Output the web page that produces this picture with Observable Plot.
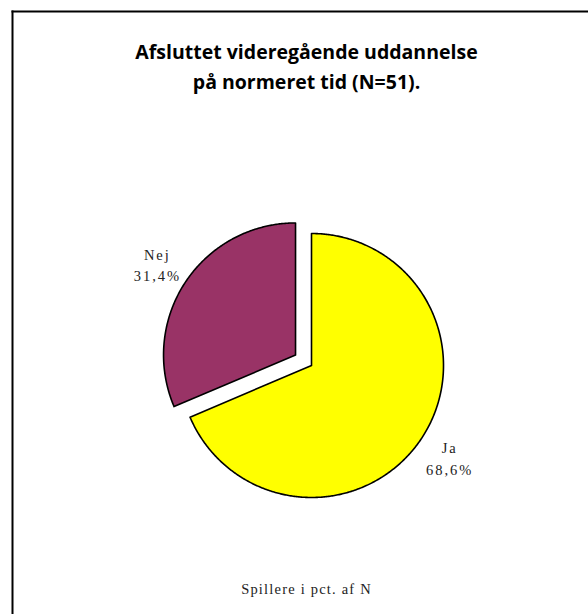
<!DOCTYPE html>
<html>
<head>
<meta charset="utf-8">
<script src="https://cdn.jsdelivr.net/npm/d3@7"></script>
<script src="https://cdn.jsdelivr.net/npm/@observablehq/plot@0.6"></script>
<style>
  html, body { margin: 0; padding: 0; background: #fff; }
  #chart { width: 588px; height: 614px; }
</style>
</head>
<body>
<div id="chart"></div>
<script>
// ---- data ----
const categories = ["Ja", "Nej"];
const values = [68.6, 31.4];
const valueLabels = ["68,6%", "31,4%"];
const sliceColors = ["#FFFF00", "#993366"];
const explodedSlices = ["Nej"];
const titleLines = ["Afsluttet videregående uddannelse", "på normeret tid (N=51)."];
const caption = "Spillere i pct. af N";

// ---- layout ----
const W = 588, H = 614;
const mL = 12, mT = 11;
const cx = 311, cy = 365, R = 132;   // pie centre & radius in px
const explode = 0.145;               // in radius units
const labelR = 1.255;

const total = d3.sum(values);
let acc = 0;
const slices = categories.map((c, i) => {
  const a0 = acc / total * 2 * Math.PI;
  acc += values[i];
  const a1 = acc / total * 2 * Math.PI;
  const mid = (a0 + a1) / 2;
  const e = explodedSlices.includes(c) ? explode : 0;
  const ox = e * Math.sin(mid), oy = e * Math.cos(mid);
  const pts = [{x: ox, y: oy}];
  const n = Math.max(2, Math.ceil((a1 - a0) / (Math.PI / 360)));
  for (let k = 0; k <= n; k++) {
    const a = a0 + (a1 - a0) * k / n;
    pts.push({x: ox + Math.sin(a), y: oy + Math.cos(a)});
  }
  pts.push({x: ox, y: oy});
  return {cat: c, color: sliceColors[i], pts,
          lx: ox + labelR * Math.sin(mid), ly: oy + labelR * Math.cos(mid),
          label: c + "\n" + valueLabels[i]};
});

const xDomain = [(mL - cx) / R, (W - cx) / R];
const yDomain = [(cy - H) / R, (cy - mT) / R];
const serif = "'Liberation Serif', 'Times New Roman', serif";

const plot = Plot.plot({
  width: W, height: H,
  marginLeft: mL, marginTop: mT, marginRight: 0, marginBottom: 0,
  x: {domain: xDomain, axis: null},
  y: {domain: yDomain, axis: null},
  style: {background: "#fff"},
  marks: [
    Plot.frame({anchor: "top", stroke: "#000", strokeWidth: 2}),
    Plot.frame({anchor: "left", stroke: "#000", strokeWidth: 2}),
    ...slices.map(s => Plot.line(s.pts, {
      x: "x", y: "y", fill: s.color, stroke: "#000", strokeWidth: 1.6,
      strokeLinejoin: "round", curve: "linear"
    })),
    Plot.text(slices, {
      x: "lx", y: "ly", text: "label", fontSize: 14.5, lineHeight: 1.5,
      fontFamily: serif, fill: "#222", textAnchor: "middle"
    }),
    Plot.text([titleLines[0]], {
      frameAnchor: "top", dx: 6, dy: 47, lineAnchor: "bottom", text: d => d,
      fontSize: 19.5, fontWeight: "bold", fontFamily: "'Open Sans', sans-serif", fill: "#000"
    }),
    Plot.text([titleLines[1]], {
      frameAnchor: "top", dx: 6, dy: 77, lineAnchor: "bottom", text: d => d,
      fontSize: 19.5, fontWeight: "bold", fontFamily: "'Open Sans', sans-serif", fill: "#000"
    }),
    Plot.text([caption], {
      frameAnchor: "top", dx: 6, dy: 582, lineAnchor: "bottom", text: d => d,
      fontSize: 14.5, fontFamily: serif, fill: "#222"
    })
  ]
});

plot.querySelectorAll("text").forEach(t => {
  const s = t.textContent;
  if (s === caption) t.style.letterSpacing = "1.2px";
  else if (categories.some(c => s.startsWith(c))) t.style.letterSpacing = "2px";
});
document.getElementById("chart").appendChild(plot);
</script>
</body>
</html>
